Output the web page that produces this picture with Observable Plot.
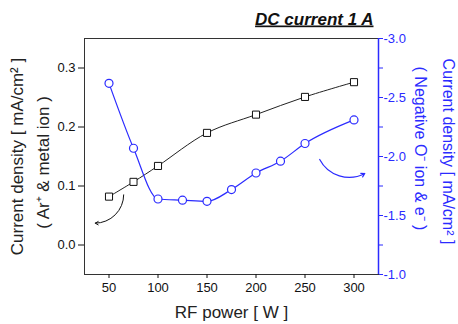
<!DOCTYPE html>
<html><head><meta charset="utf-8">
<script src="https://cdn.jsdelivr.net/npm/d3@7"></script>
<script src="https://cdn.jsdelivr.net/npm/@observablehq/plot@0.6"></script>
<style>body{margin:0;background:#fff}</style>
</head><body><div id="chart"></div>
<script>
// Data
const ionPower = [50, 75, 100, 150, 200, 250, 300];
const ionDensity = [0.082, 0.107, 0.134, 0.19, 0.221, 0.251, 0.276];
const negPower = [50, 75, 100, 125, 150, 175, 200, 225, 250, 300];
const negDensity = [-2.62, -2.07, -1.64, -1.63, -1.62, -1.72, -1.86, -1.96, -2.11, -2.31];
const xTicks = [50, 100, 150, 200, 250, 300];
const leftTicks = [0.0, 0.1, 0.2, 0.3];
const rightTicks = [-3.0, -2.5, -2.0, -1.5, -1.0];
const rightMinorTicks = [-2.75, -2.25, -1.75, -1.25];
const titleText = "DC current 1 A";
const xLabel = "RF power [ W ]";
const leftLabel1 = "Current density [ mA/cm\u00B2 ]";
const leftLabel2 = "( Ar\u207A & metal ion )";
const rightLabel1 = "Current density [ mA/cm\u00B2 ]";
const rightLabel2 = "( Negative O\u207B ion & e\u207B )";
// Arrow annotations (data coordinates): black arrow on left scale, blue on right scale
const blackArrow = [{x1: 65, y1: 0.085, x2: 36, y2: 0.037}];
const blueArrow = [{x1: 265, y1: -1.975, x2: 311, y2: -1.856}];

const blue = "#2b2bff";
const toLeft = v => -0.05 + (-1 - v) * 0.2;
const fromLeft = l => -1 - (l + 0.05) / 0.2;
const fmt = v => (Math.abs(v) < 1e-9 ? 0 : v).toFixed(1);

const ion = ionPower.map((p, i) => ({p, v: ionDensity[i]}));
const neg = negPower.map((p, i) => ({p, v: toLeft(negDensity[i])}));
const blueArrowL = blueArrow.map(d => ({...d, y1: toLeft(d.y1), y2: toLeft(d.y2)}));

const labelFont = "Liberation Sans, Arial, sans-serif";

const plot = Plot.plot({
  width: 458, height: 324,
  marginLeft: 84, marginRight: 80, marginTop: 38, marginBottom: 50,
  style: {fontFamily: "Liberation Sans Narrow, Liberation Sans, sans-serif", fontSize: "13px", background: "white", color: "#111"},
  x: {domain: [25, 325]},
  y: {domain: [-0.05, 0.35]},
  marks: [
    Plot.frame({stroke: "#333"}),
    Plot.ruleX([325], {stroke: blue, strokeWidth: 1.5}),
    Plot.axisX({ticks: xTicks, tickSize: 4, tickPadding: 4, tickFormat: d => String(d), label: null}),
    Plot.axisY({ticks: leftTicks, tickSize: 6, tickPadding: 3, tickFormat: fmt, label: null}),
    Plot.axisY({anchor: "right", ticks: rightMinorTicks.map(toLeft), tickSize: 4, tickFormat: () => "", label: null, color: blue}),
    Plot.axisY({anchor: "right", ticks: rightTicks.map(toLeft), tickSize: 4, tickPadding: 1, tickFormat: d => fmt(fromLeft(d)), label: null, color: blue}),
    Plot.line(ion, {x: "p", y: "v", curve: "catmull-rom", stroke: "#222", strokeWidth: 1}),
    Plot.dot(ion, {x: "p", y: "v", symbol: "square", r: 4, fill: "white", stroke: "#111", strokeWidth: 1}),
    Plot.line(neg, {x: "p", y: "v", curve: "monotone-x", stroke: blue, strokeWidth: 1.2}),
    Plot.dot(neg, {x: "p", y: "v", r: 4, fill: "white", stroke: blue, strokeWidth: 1.2}),
    Plot.arrow(blackArrow, {x1: "x1", y1: "y1", x2: "x2", y2: "y2", bend: 45, headLength: 5, stroke: "#111", strokeWidth: 1}),
    Plot.arrow(blueArrowL, {x1: "x1", y1: "y1", x2: "x2", y2: "y2", bend: -45, headLength: 5, stroke: blue, strokeWidth: 1.2}),
    Plot.text([titleText], {text: d => d, frameAnchor: "top-right", dx: -5, dy: -14, lineAnchor: "bottom", fontSize: 17, fontWeight: "bold", fontStyle: "italic", fontFamily: labelFont, fill: "#111"}),
    Plot.text([xLabel], {text: d => d, frameAnchor: "bottom", textAnchor: "middle", lineAnchor: "middle", dy: 38, fontSize: 17, fontFamily: labelFont, fill: "#222"}),
    Plot.text([leftLabel1], {text: d => d, frameAnchor: "left", textAnchor: "middle", lineAnchor: "middle", dx: -67, rotate: -90, fontSize: 17, fontFamily: labelFont, fill: "#222"}),
    Plot.text([leftLabel2], {text: d => d, frameAnchor: "left", textAnchor: "middle", lineAnchor: "middle", dx: -41, dy: 6, rotate: -90, fontSize: 17, fontFamily: labelFont, fill: "#222"}),
    Plot.text([rightLabel1], {text: d => d, frameAnchor: "right", textAnchor: "middle", lineAnchor: "middle", dx: 70, dy: -5, rotate: 90, fontSize: 16, fontFamily: labelFont, fill: blue}),
    Plot.text([rightLabel2], {text: d => d, frameAnchor: "right", textAnchor: "middle", lineAnchor: "middle", dx: 42, dy: -8, rotate: 90, fontSize: 16, fontFamily: labelFont, fill: blue})
  ]
});
d3.select(plot).selectAll("text").filter(function() { return this.textContent === titleText; })
  .style("text-decoration", "underline");
document.getElementById("chart").appendChild(plot);
</script>
</body></html>
